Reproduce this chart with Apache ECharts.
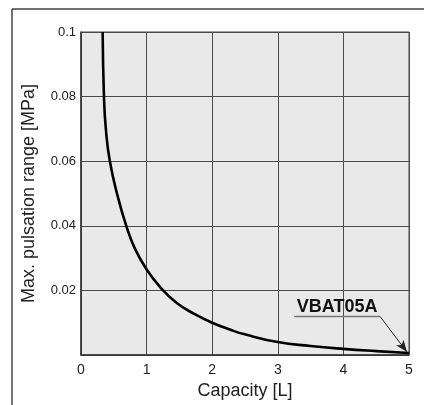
<!DOCTYPE html>
<html>
<head>
<meta charset="utf-8">
<script src="https://cdn.jsdelivr.net/npm/echarts@6/dist/echarts.min.js"></script>
<style>html,body{margin:0;padding:0;background:#fff;}#c{width:424px;height:405px;}</style>
</head>
<body>
<div id="c"></div>
<script>
// Curve
const capacity = [0.33, 0.35, 0.38, 0.44, 0.56, 0.69, 0.82, 1.0, 1.23, 1.46, 1.72, 2.0, 2.28, 2.48, 3.0, 3.5, 4.0, 4.5, 5.0];
const pulsation = [0.100, 0.080, 0.0697, 0.060, 0.0491, 0.040, 0.0330, 0.0265, 0.0205, 0.0161, 0.0128, 0.0100, 0.0078, 0.0065, 0.0040, 0.0028, 0.0019, 0.0012, 0.0006];
const yTickLabels = {0.02: '0.02', 0.04: '0.04', 0.06: '0.06', 0.08: '0.08', 0.1: '0.1'};
const xTickLabels = ['0', '1', '2', '3', '4', '5'];
const seriesName = 'VBAT05A';
// Annotation anchor points (data coords)
const underlineStart = [3.25, 0.0119];
const underlineEnd = [4.56, 0.0119];
const arrowTip = [4.97, 0.0009];

const chart = echarts.init(document.getElementById('c'));
const font = '"Liberation Sans", Arial, sans-serif';
chart.setOption({
  animation: false,
  grid: {left: 81, right: 15, top: 32, bottom: 49, show: true, backgroundColor: '#e8e9e8', borderColor: '#4a4a4a', borderWidth: 1},
  xAxis: {
    type: 'value', min: 0, max: 5, interval: 1,
    name: 'Capacity [L]', nameLocation: 'middle', nameGap: 27,
    nameTextStyle: {fontFamily: font, fontSize: 18, color: '#222'},
    axisLine: {show: true, lineStyle: {color: '#333', width: 1.5}},
    axisTick: {show: false},
    axisLabel: {fontFamily: font, fontSize: 14, color: '#222', margin: 8, formatter: v => xTickLabels[Math.round(v)]},
    splitLine: {show: true, lineStyle: {color: '#4a4a4a', width: 1}}
  },
  yAxis: {
    type: 'value', min: 0, max: 0.1, interval: 0.02,
    name: 'Max. pulsation range [MPa]', nameLocation: 'middle', nameGap: 43,
    nameTextStyle: {fontFamily: font, fontSize: 18, color: '#222'},
    axisLine: {show: true, lineStyle: {color: '#333', width: 1.5}},
    axisTick: {show: false},
    axisLabel: {fontFamily: font, fontSize: 13, color: '#222', margin: 5,
      formatter: v => yTickLabels[Math.round(v * 100) / 100] || ''},
    splitLine: {show: true, lineStyle: {color: '#4a4a4a', width: 1}}
  },
  series: [{
    type: 'line', name: seriesName, smooth: 0.5, showSymbol: false,
    data: capacity.map((c, i) => [c, pulsation[i]]),
    lineStyle: {color: '#000', width: 2.6},
    markLine: {
      silent: true, symbol: 'none',
      data: [
        [{coord: underlineStart, lineStyle: {color: '#777', width: 1.3, type: 'solid'},
          label: {show: true, position: 'insideMiddleTop', formatter: seriesName, fontFamily: font, fontSize: 18, fontWeight: 'bold', color: '#111', distance: 1}},
         {coord: underlineEnd}],
        [{coord: underlineEnd, lineStyle: {color: '#222', width: 1, type: 'solid'}, label: {show: false}, symbol: 'none'},
         {coord: arrowTip, symbol: 'arrow', symbolSize: [7, 12]}]
      ]
    }
  }],
  graphic: [
    {type: 'line', shape: {x1: 12, y1: 9, x2: 424, y2: 9}, style: {stroke: '#444', lineWidth: 1.5}},
    {type: 'line', shape: {x1: 12, y1: 9, x2: 12, y2: 405}, style: {stroke: '#444', lineWidth: 1.5}}
  ]
});
</script>
</body>
</html>
